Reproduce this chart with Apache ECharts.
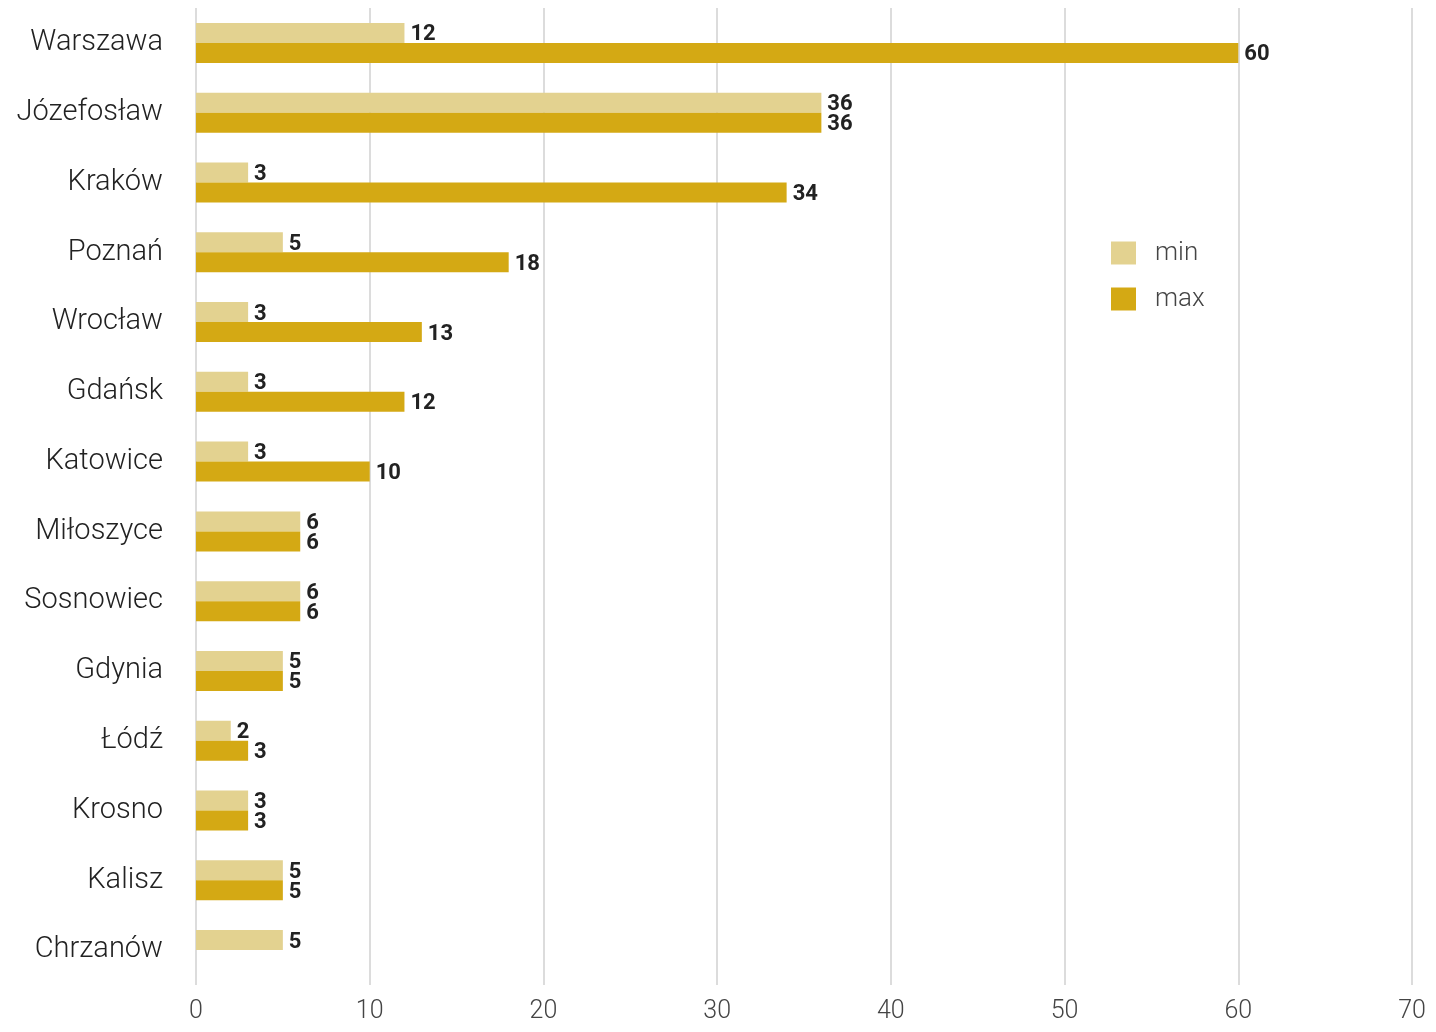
<!DOCTYPE html>
<html>
<head>
<meta charset="utf-8">
<script src="https://cdn.jsdelivr.net/npm/echarts@6/dist/echarts.min.js"></script>
<style>
  html, body { margin: 0; padding: 0; background: #fff; }
  #chart { width: 1436px; height: 1032px; }
</style>
</head>
<body>
<div id="chart"></div>
<script>
const cities = ['Warszawa', 'Józefosław', 'Kraków', 'Poznań', 'Wrocław', 'Gdańsk', 'Katowice',
  'Miłoszyce', 'Sosnowiec', 'Gdynia', 'Łódź', 'Krosno', 'Kalisz', 'Chrzanów']
const minValues = [12, 36, 3, 5, 3, 3, 3, 6, 6, 5, 2, 3, 5, 5]
const maxValues = [60, 36, 34, 18, 13, 12, 10, 6, 6, 5, 3, 3, 5, null]
const xTicks = [0, 10, 20, 30, 40, 50, 60, 70]

const chart = echarts.init(document.getElementById('chart'))

const valueLabel = {
  show: true,
  position: 'right',
  distance: 6,
  offset: [0, 2],
  color: '#222',
  fontSize: 22,
  fontWeight: 'bold',
  fontFamily: 'Roboto'
}

const option = {
  backgroundColor: '#fff',
  animation: false,
  legend: {
    orient: 'vertical',
    left: 1106,
    top: 235,
    itemWidth: 25,
    itemHeight: 23,
    itemGap: 20,
    icon: 'rect',
    textStyle: { color: '#444', fontSize: 26, fontWeight: 300, fontFamily: 'Roboto', padding: [0, 0, 0, 14] },
    data: ['min', 'max']
  },
  grid: { left: 196, right: 24, top: 8, bottom: 47, containLabel: false },
  xAxis: {
    type: 'value',
    min: xTicks[0],
    max: xTicks[xTicks.length - 1],
    interval: 10,
    axisLine: { show: false },
    axisTick: { show: false },
    axisLabel: { color: '#444', fontSize: 25, fontWeight: 300, fontFamily: 'Roboto', margin: 14 },
    splitLine: { show: true, lineStyle: { color: '#dcdcdc', width: 2 } }
  },
  yAxis: {
    type: 'category',
    inverse: true,
    data: cities,
    axisLine: { show: false },
    axisTick: { show: false },
    axisLabel: { color: '#222', fontSize: 29, fontWeight: 300, fontFamily: 'Roboto', margin: 33 }
  },
  series: [
    {
      name: 'min',
      type: 'bar',
      data: minValues,
      barWidth: 20,
      barGap: '0%',
      itemStyle: { color: '#e3d290' },
      label: valueLabel
    },
    {
      name: 'max',
      type: 'bar',
      data: maxValues,
      barWidth: 20,
      barGap: '0%',
      itemStyle: { color: '#d4a914' },
      label: valueLabel
    }
  ]
}

chart.setOption(option)
</script>
</body>
</html>
